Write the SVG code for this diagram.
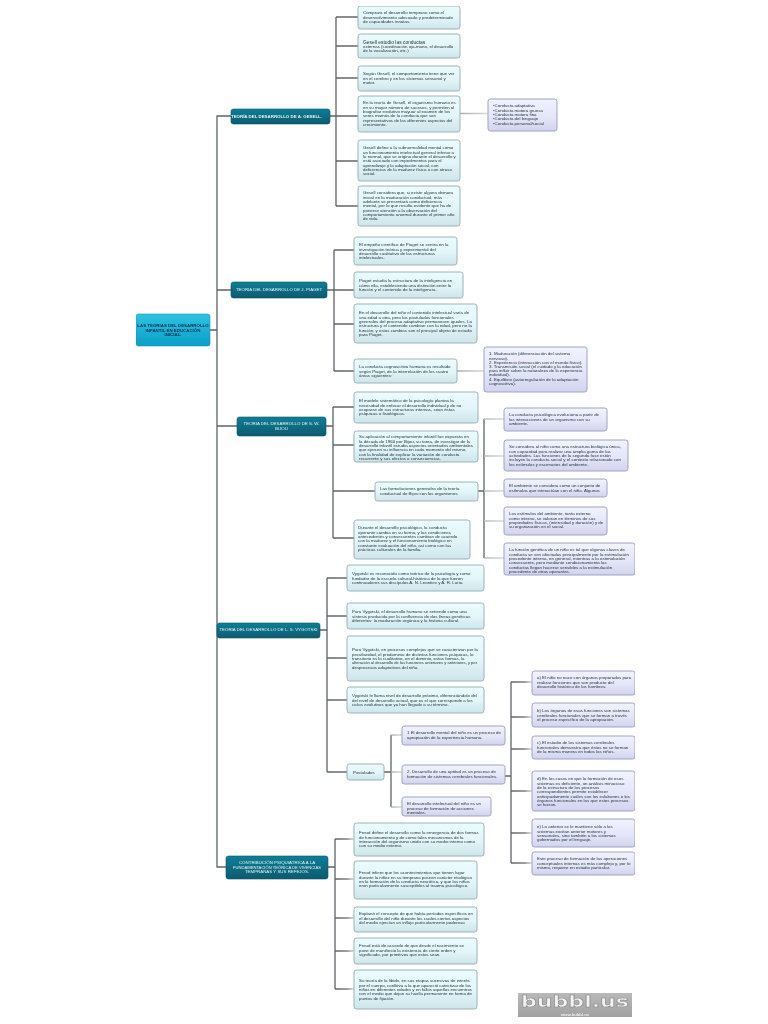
<svg xmlns="http://www.w3.org/2000/svg" width="768" height="1024" viewBox="0 0 768 1024">
<style>
text{font-family:"Liberation Sans",Arial,sans-serif;font-size:4.4px;fill:#22363d}
.c{fill:url(#cb);stroke:#9db2b8;stroke-width:1}
.p{fill:url(#pb);stroke:#a0a3bf;stroke-width:1}
.d{fill:url(#db);stroke:#0a5566;stroke-width:.6}
.r{fill:url(#rb);stroke:#1493b4;stroke-width:.6}
.w{fill:#e4f4f7;text-anchor:middle}
.k{fill:#06304a;font-weight:bold;text-anchor:middle}
.l{fill:none;stroke:#5f6466;stroke-width:1.3}
.f{fill:none;stroke:url(#fd);stroke-width:1.3}
</style>
<defs>
<linearGradient id="cb" x1="0" y1="0" x2="0" y2="1"><stop offset="0" stop-color="#ecfcfe"/><stop offset=".55" stop-color="#e2f5f8"/><stop offset="1" stop-color="#cde5ea"/></linearGradient>
<linearGradient id="pb" x1="0" y1="0" x2="0" y2="1"><stop offset="0" stop-color="#f1f3fe"/><stop offset=".55" stop-color="#e4e6f9"/><stop offset="1" stop-color="#d2d3ee"/></linearGradient>
<linearGradient id="db" x1="0" y1="0" x2="0" y2="1"><stop offset="0" stop-color="#127f97"/><stop offset="1" stop-color="#065a6e"/></linearGradient>
<linearGradient id="rb" x1="0" y1="0" x2="0" y2="1"><stop offset="0" stop-color="#2fc2e2"/><stop offset="1" stop-color="#08a0c9"/></linearGradient>
<linearGradient id="fd" x1="0" y1="0" x2="1" y2="0"><stop offset="0" stop-color="#5f6466"/><stop offset=".65" stop-color="#7d8182"/><stop offset="1" stop-color="#d8dada"/></linearGradient>
<linearGradient id="lg" x1="0" y1="0" x2="0" y2="1"><stop offset="0" stop-color="#b9b9b9"/><stop offset="1" stop-color="#a2a2a2"/></linearGradient>
<filter id="soft" x="0" y="0" width="1" height="1"><feGaussianBlur stdDeviation="0.3"/></filter>
</defs>
<rect width="768" height="1024" fill="#ffffff"/>
<g filter="url(#soft)">
<g id="connectors">
<path class="l" d="M231 116H217V867H226M210 330H217M217 290H231M217 426H237M217 630H217"/>
<path class="l" d="M330 116H336M336 17V206M327 290H334M334 250V371M326 426H333M333 407V538M320 630H327M327 578V772M328 867H335M335 839V989M384 772H391M391 735V807M478 491H484M484 419V558M505 776H511M511 682V863"/>
<path class="f" d="M336 17L358 17.01M336 46L358 46.01M336 78L358 78.01M336 116L358 116.01M336 161L358 161.01M336 206L358 206.01M460 113.5L488 113.51"/>
<path class="f" d="M334 250L354 250.01M334 290L354 290.01M334 324L354 324.01M334 371L354 371.01M457 371L484 371.01"/>
<path class="f" d="M333 407L354 407.01M333 445L354 445.01M333 491L375 491.01M333 538L354 538.01M484 419L504 419.01M484 456L504 456.01M484 491L504 491.01M484 521L504 521.01M484 558L504 558.01"/>
<path class="f" d="M327 578L347 578.01M327 616L347 616.01M327 658L347 658.01M327 700L347 700.01M327 772L347 772.01M391 735L402 735.01M391 772L402 772.01M391 807L402 807.01"/>
<path class="f" d="M511 682L532 682.01M511 717L532 717.01M511 749L532 749.01M511 791L532 791.01M511 833L532 833.01M511 863L532 863.01"/>
<path class="f" d="M335 839L354 839.01M335 879L354 879.01M335 918L354 918.01M335 951L354 951.01M335 989L354 989.01"/>
</g>
<g id="root"><rect class="r" x="136" y="314" width="74" height="32" rx="2.5"/><text class="k" x="173" y="327.4"><tspan x="173">LAS TEORIAS DEL DESARROLLO</tspan><tspan x="173" dy="4.2">INFANTIL EN EDUCACIÓN</tspan><tspan x="173" dy="4.2">INICIAL.</tspan></text></g>
<g id="n-gesell"><rect class="d" x="231" y="109" width="99" height="15" rx="2.5"/><text class="w" x="276.5" y="117.6" font-weight="bold">TEORÍA DEL DESARROLLO DE A. GESELL.</text></g>
<g id="g1"><rect class="c" x="358" y="6" width="102" height="23" rx="2.5"/><text x="363" y="14.4"><tspan x="363">Comprara el desarrollo temprano como el</tspan><tspan x="363" dy="4.3">desenvolvimiento adecuado y predeterminado</tspan><tspan x="363" dy="4.3">de capacidades innatas.</tspan></text></g>
<g id="g2"><rect class="c" x="358" y="34" width="102" height="24" rx="2.5"/><text x="363" y="43.5"><tspan x="363" font-size="4.9">Gesell estudio las conductas</tspan><tspan x="363" dy="4.3">externas (coordinación ojo-mano, el desarrollo</tspan><tspan x="363" dy="4.3">de la vocalización, etc.)</tspan></text></g>
<g id="g3"><rect class="c" x="358" y="66" width="102" height="25" rx="2.5"/><text x="363" y="75.4"><tspan x="363">Según Gesell, el comportamiento tiene que ver</tspan><tspan x="363" dy="4.3">en el cerebro y en los sistemas sensorial y</tspan><tspan x="363" dy="4.3">motor.</tspan></text></g>
<g id="g4"><rect class="c" x="358" y="96" width="102" height="36" rx="2.5"/><text x="363" y="104.4"><tspan x="363">En la teoría de Gesell, el organismo humano es</tspan><tspan x="363" dy="4.3">en su mayor número de sucesos, y permiten al</tspan><tspan x="363" dy="4.3">biografiar evolutivo mayuar al examen de los</tspan><tspan x="363" dy="4.3">seres mamás de la conducta que son</tspan><tspan x="363" dy="4.3">representativos de los diferentes aspectos del</tspan><tspan x="363" dy="4.3">crecimiento.</tspan></text></g>
<g id="g4a"><rect class="p" x="488" y="99" width="69" height="32" rx="2.5"/><text x="493" y="107.4"><tspan x="493">•Conducta adaptativa</tspan><tspan x="493" dy="4.3">•Conducta motora gruesa</tspan><tspan x="493" dy="4.3">•Conducta motora fina</tspan><tspan x="493" dy="4.3">•Conducta del lenguaje</tspan><tspan x="493" dy="4.3">•Conducta personal/social</tspan></text></g>
<g id="g5"><rect class="c" x="358" y="140" width="102" height="41" rx="2.5"/><text x="363" y="149.4"><tspan x="363">Gesell define a la subnormalidad mental como</tspan><tspan x="363" dy="4.3">un funcionamiento intelectual general inferior a</tspan><tspan x="363" dy="4.3">lo normal, que se origina durante el desarrollo y</tspan><tspan x="363" dy="4.3">está asociado con impedimentos para el</tspan><tspan x="363" dy="4.3">aprendizaje y la adaptación social, con</tspan><tspan x="363" dy="4.3">deficiencias de la madurez física o con atraso</tspan><tspan x="363" dy="4.3">social.</tspan></text></g>
<g id="g6"><rect class="c" x="358" y="186" width="102" height="40" rx="2.5"/><text x="363" y="194.4"><tspan x="363">Gesell considera que, si existe alguna demora</tspan><tspan x="363" dy="4.3">inicial en la maduración conductual, más</tspan><tspan x="363" dy="4.3">adelante se presentará como deficiencia</tspan><tspan x="363" dy="4.3">mental, por lo que resulta evidente que ha de</tspan><tspan x="363" dy="4.3">ponerse atención a la observación del</tspan><tspan x="363" dy="4.3">comportamiento anormal durante el primer año</tspan><tspan x="363" dy="4.3">de vida.</tspan></text></g>
<g id="n-piaget"><rect class="d" x="231" y="282" width="96" height="16" rx="2.5"/><text class="w" x="279" y="291.4">TEORÍA DEL DESARROLLO DE J. PIAGET</text></g>
<g id="p1"><rect class="c" x="354" y="237" width="103" height="28" rx="2.5"/><text x="359" y="246.4"><tspan x="359">El empeño científico de Piaget se centra en la</tspan><tspan x="359" dy="4.3">investigación teórica y experimental del</tspan><tspan x="359" dy="4.3">desarrollo cualitativo de las estructuras</tspan><tspan x="359" dy="4.3">intelectuales.</tspan></text></g>
<g id="p2"><rect class="c" x="354" y="272" width="109" height="26" rx="2.5"/><text x="359" y="282.4"><tspan x="359">Piaget estudia la estructura de la inteligencia en</tspan><tspan x="359" dy="4.3">cómo ella, estableciendo una distinción entre la</tspan><tspan x="359" dy="4.3">función y el contenido de la inteligencia.</tspan></text></g>
<g id="p3"><rect class="c" x="354" y="304" width="123" height="39" rx="2.5"/><text x="359" y="314.4"><tspan x="359">En el desarrollo del niño el contenido intelectual varía de</tspan><tspan x="359" dy="4.3">una edad a otra, pero los postulados funcionales</tspan><tspan x="359" dy="4.3" textLength="113" lengthAdjust="spacingAndGlyphs">generales del proceso adaptativo permanecen iguales. La</tspan><tspan x="359" dy="4.3" textLength="113" lengthAdjust="spacingAndGlyphs">estructura y el contenido cambian con la edad, pero no la</tspan><tspan x="359" dy="4.3" textLength="113" lengthAdjust="spacingAndGlyphs">función, y estos cambios son el principal objeto de estudio</tspan><tspan x="359" dy="4.3">para Piaget.</tspan></text></g>
<g id="p4"><rect class="c" x="354" y="359" width="103" height="24" rx="2.5"/><text x="359" y="368.4"><tspan x="359">La conducta cognoscitiva humana es resultado</tspan><tspan x="359" dy="4.3">según Piaget, de la interrelación de los cuatro</tspan><tspan x="359" dy="4.3">áreas siguientes:</tspan></text></g>
<g id="p4a"><rect class="p" x="484" y="347" width="103" height="45" rx="2.5"/><text x="489" y="355.4"><tspan x="489">1. Maduración (diferenciación del sistema</tspan><tspan x="489" dy="4.2">nervioso).</tspan><tspan x="489" dy="4.2">2. Experiencia (interacción con el mundo físico).</tspan><tspan x="489" dy="4.2">3. Transmisión social (el cuidado y la educación</tspan><tspan x="489" dy="4.2">para influir sobre la naturaleza de la experiencia</tspan><tspan x="489" dy="4.2">individual).</tspan><tspan x="489" dy="4.2">4. Equilibrio (autorregulación de la adaptación</tspan><tspan x="489" dy="4.2">cognoscitiva).</tspan></text></g>
<g id="n-bijou"><rect class="d" x="237" y="417" width="89" height="19" rx="2.5"/><text class="w" x="281.5" y="425.4"><tspan x="281.5">TEORÍA DEL DESARROLLO DE S. W.</tspan><tspan x="281.5" dy="4.6">BIJOU</tspan></text></g>
<g id="b1"><rect class="c" x="354" y="392" width="124" height="31" rx="2.5"/><text x="359" y="402.4"><tspan x="359">El modelo sistemático de la psicología plantea la</tspan><tspan x="359" dy="4.3">necesidad de enfocar el desarrollo individual y de no</tspan><tspan x="359" dy="4.3">ocuparse de sus estructuras internas, sean éstas</tspan><tspan x="359" dy="4.3">psíquicas o fisiológicas.</tspan></text></g>
<g id="b2"><rect class="c" x="354" y="431" width="124" height="31" rx="2.5"/><text x="359" y="438.4"><tspan x="359">Su aplicación al comportamiento infantil fue expuesta en</tspan><tspan x="359" dy="4.3">la década de 1960 por Bijou, su tarea, de investigar de la</tspan><tspan x="359" dy="4.3" textLength="114" lengthAdjust="spacingAndGlyphs">desarrollo infantil estudia aspectos orientados ambientales</tspan><tspan x="359" dy="4.3">que ejercen su influencia en cada momento del mismo,</tspan><tspan x="359" dy="4.3">con la finalidad de explicar la variación de conducta</tspan><tspan x="359" dy="4.3">recurrente y sus efectos o consecuencias.</tspan></text></g>
<g id="b3"><rect class="c" x="375" y="482" width="103" height="19" rx="2.5"/><text x="380" y="490.4"><tspan x="380">Las formulaciones generales de la teoría</tspan><tspan x="380" dy="4.3">conductual de Bijou con los organismos.</tspan></text></g>
<g id="b4"><rect class="c" x="354" y="520" width="116" height="39" rx="2.5"/><text x="358" y="529.4"><tspan x="358"> Durante el desarrollo psicológico, la conducta</tspan><tspan x="358" dy="4.3">operante cambia en su forma, y las condiciones</tspan><tspan x="358" dy="4.3">antecedentes y consecuentes cambian de acuerdo</tspan><tspan x="358" dy="4.3">con la madurez y el funcionamiento biológico en</tspan><tspan x="358" dy="4.3">constante evaluación del niño, así como con las</tspan><tspan x="358" dy="4.3">prácticas culturales de la familia.</tspan></text></g>
<g id="b5"><rect class="p" x="504" y="408" width="103" height="23" rx="2.5"/><text x="509" y="416.4"><tspan x="509">La conducta psicológica evoluciona a partir de</tspan><tspan x="509" dy="4.3">las interacciones de un organismo con su</tspan><tspan x="509" dy="4.3">ambiente.</tspan></text></g>
<g id="b6"><rect class="p" x="504" y="440" width="124" height="31" rx="2.5"/><text x="509" y="448.4"><tspan x="509" textLength="112" lengthAdjust="spacingAndGlyphs">Se considera al niño como una estructura biológica única,</tspan><tspan x="509" dy="4.3">con capacidad para realizar una amplia gama de las</tspan><tspan x="509" dy="4.3">actividades. Las funciones de la segunda fase están</tspan><tspan x="509" dy="4.3" textLength="112" lengthAdjust="spacingAndGlyphs">incluyen la conducta social y el contexto relacionado con</tspan><tspan x="509" dy="4.3">los estímulos y escenarios del ambiente.</tspan></text></g>
<g id="b7"><rect class="p" x="504" y="479" width="103" height="18" rx="2.5"/><text x="509" y="487.4"><tspan x="509">El ambiente se considera como un conjunto de</tspan><tspan x="509" dy="4.3">estímulos que interactúan con el niño. Algunos</tspan></text></g>
<g id="b8"><rect class="p" x="504" y="507" width="103" height="28" rx="2.5"/><text x="509" y="515.4"><tspan x="509">Los estímulos del ambiente, tanto externo</tspan><tspan x="509" dy="4.3">como interno, se valoran en términos de sus</tspan><tspan x="509" dy="4.3">propiedades físicas, (intensidad y duración) y de</tspan><tspan x="509" dy="4.3">su organización en el social.</tspan></text></g>
<g id="b9"><rect class="p" x="504" y="543" width="131" height="32" rx="2.5"/><text x="509" y="551.4"><tspan x="509" textLength="116" lengthAdjust="spacingAndGlyphs">La función genética de un niño es tal que algunas clases de</tspan><tspan x="509" dy="4.3" textLength="120" lengthAdjust="spacingAndGlyphs">conducta se ven afectadas principalmente por la estimulación</tspan><tspan x="509" dy="4.3" textLength="116" lengthAdjust="spacingAndGlyphs">procedente interna, en general, mientras a la estimulación</tspan><tspan x="509" dy="4.3">consecuente, pero mediante condicionamiento las</tspan><tspan x="509" dy="4.3">conductas llegan hacerse sensibles a la estimulación</tspan><tspan x="509" dy="4.3">procedente de otras operantes.</tspan></text></g>
<g id="n-vygotski"><rect class="d" x="217" y="623" width="103" height="15" rx="2.5"/><text class="w" x="268.5" y="631.4">TEORÍA DEL DESARROLLO DE L. S. VYGOTSKI</text></g>
<g id="v1"><rect class="c" x="347" y="565" width="137" height="26" rx="2.5"/><text x="352" y="575.4"><tspan x="352">Vygotski es reconocido como teórico de la psicología y como</tspan><tspan x="352" dy="4.3">fundador de la escuela cultural-histórica de la que fueron</tspan><tspan x="352" dy="4.3">continuadores sus discípulos A. N. Leontiev y A. R. Luria.</tspan></text></g>
<g id="v2"><rect class="c" x="347" y="603" width="137" height="26" rx="2.5"/><text x="352" y="613.4"><tspan x="352">Para Vygotski, el desarrollo humano se entiende como una</tspan><tspan x="352" dy="4.3">síntesis producida por la confluencia de dos líneas genéticas</tspan><tspan x="352" dy="4.3">diferentes: la maduración orgánica y la historia cultural.</tspan></text></g>
<g id="v3"><rect class="c" x="347" y="636" width="137" height="45" rx="2.5"/><text x="352" y="651.4"><tspan x="352">Para Vygotski, en procesos complejos que se caracterizan por la</tspan><tspan x="352" dy="4.3">peculiaridad, el predominio de distintas funciones psíquicas, lo</tspan><tspan x="352" dy="4.3">transitorio es lo cualitativo, en el dominio, estas formas, la</tspan><tspan x="352" dy="4.3" textLength="125" lengthAdjust="spacingAndGlyphs">alteración al desarrollo de las funciones anteriores y anteriores, y por</tspan><tspan x="352" dy="4.3">desprocesos adaptativos del niño.</tspan></text></g>
<g id="v4"><rect class="c" x="347" y="687" width="137" height="26" rx="2.5"/><text x="352" y="697.4"><tspan x="352" textLength="125" lengthAdjust="spacingAndGlyphs">Vygotski le llama nivel de desarrollo próximo, diferenciándolo del</tspan><tspan x="352" dy="4.3">del nivel de desarrollo actual, que es el que corresponde a los</tspan><tspan x="352" dy="4.3">ciclos evolutivos que ya han llegado a su término.</tspan></text></g>
<g id="v5"><rect class="c" x="347" y="764" width="37" height="16" rx="2.5"/><text x="353" y="773.6">Postulados</text></g>
<g id="q1"><rect class="p" x="402" y="726" width="103" height="19" rx="2.5"/><text x="407" y="734.4"><tspan x="407">1 El desarrollo mental del niño es un proceso de</tspan><tspan x="407" dy="4.3">apropiación de la experiencia humana.</tspan></text></g>
<g id="q2"><rect class="p" x="402" y="765" width="103" height="19" rx="2.5"/><text x="407" y="773.4"><tspan x="407">2. Desarrollo de una aptitud es un proceso de</tspan><tspan x="407" dy="4.3">formación de sistemas cerebrales funcionales.</tspan></text></g>
<g id="q3"><rect class="p" x="402" y="797" width="89" height="19" rx="2.5"/><text x="407" y="805.4"><tspan x="407">El desarrollo intelectual del niño es un</tspan><tspan x="407" dy="4.3">proceso de formación de acciones</tspan><tspan x="407" dy="4.3">mentales.</tspan></text></g>
<g id="r1"><rect class="p" x="532" y="671" width="103" height="24" rx="2.5"/><text x="537" y="679.4"><tspan x="537">a) El niño no nace con órganos preparados para</tspan><tspan x="537" dy="4.4">realizar funciones que son producto del</tspan><tspan x="537" dy="4.4">desarrollo histórico de los hombres.</tspan></text></g>
<g id="r2"><rect class="p" x="532" y="703" width="103" height="24" rx="2.5"/><text x="537" y="712.4"><tspan x="537">b) Los órganos de esas funciones son sistemas</tspan><tspan x="537" dy="4.3">cerebrales funcionales que se forman a través</tspan><tspan x="537" dy="4.3">el proceso específico de la apropiación.</tspan></text></g>
<g id="r3"><rect class="p" x="532" y="736" width="103" height="23" rx="2.5"/><text x="537" y="744.4"><tspan x="537">c) El estudio de los sistemas cerebrales</tspan><tspan x="537" dy="4.3">funcionales demuestra que éstos no se forman</tspan><tspan x="537" dy="4.3">de la misma manera en todos los niños.</tspan></text></g>
<g id="r4"><rect class="p" x="532" y="771" width="103" height="40" rx="2.5"/><text x="537" y="780.4"><tspan x="537">d) En los casos en que la formación de esos</tspan><tspan x="537" dy="4.3">sistemas es deficiente, un análisis minucioso</tspan><tspan x="537" dy="4.3">de la estructura de los procesos</tspan><tspan x="537" dy="4.3">correspondientes permite establecer</tspan><tspan x="537" dy="4.3">anticipadamente cuáles son los eslabones o los</tspan><tspan x="537" dy="4.3">órganos funcionales en los que estos procesos</tspan><tspan x="537" dy="4.3">se fueron.</tspan></text></g>
<g id="r5"><rect class="p" x="532" y="819" width="103" height="28" rx="2.5"/><text x="537" y="828.4"><tspan x="537">e) Lo anterior se le mantiene sólo a los</tspan><tspan x="537" dy="4.3">sistemas excitan anterior motores y</tspan><tspan x="537" dy="4.3">sensoriales, sino también a los sistemas</tspan><tspan x="537" dy="4.3">gobernados por el lenguaje.</tspan></text></g>
<g id="r6"><rect class="p" x="532" y="852" width="103" height="23" rx="2.5"/><text x="537" y="860.4"><tspan x="537">Este proceso de formación de las operaciones</tspan><tspan x="537" dy="4.3">conceptuales internas es más complejo y, por lo</tspan><tspan x="537" dy="4.3">mismo, requiere en estadio particular.</tspan></text></g>
<g id="n-freud"><rect class="d" x="226" y="856" width="102" height="23" rx="2.5"/><text class="w" x="277" y="864.4"><tspan x="277">CONTRIBUCIÓN PSIQUIÁTRICA A LA</tspan><tspan x="277" dy="4.5" textLength="88" lengthAdjust="spacingAndGlyphs">FUNDAMENTACIÓN TEÓRICA DE VIVENCIAS</tspan><tspan x="277" dy="4.5">TEMPRANAS Y SUS REFEJOS.</tspan></text></g>
<g id="f1"><rect class="c" x="354" y="823" width="130" height="33" rx="2.5"/><text x="359" y="834.4"><tspan x="359">Freud define el desarrollo como la emergencia de dos formas</tspan><tspan x="359" dy="4.3">de funcionamiento y de como tales mecanismos de la</tspan><tspan x="359" dy="4.3">interacción del organismo unido con su medio interno como</tspan><tspan x="359" dy="4.3">con su medio externo.</tspan></text></g>
<g id="f2"><rect class="c" x="354" y="861" width="123" height="38" rx="2.5"/><text x="359" y="874.4"><tspan x="359">Freud infiere que los acontecimientos que tienen lugar</tspan><tspan x="359" dy="4.3" textLength="113" lengthAdjust="spacingAndGlyphs">durante la niñez en su temprana poseen carácter etiológico</tspan><tspan x="359" dy="4.3">en la formación de la conducta neurótica, y que los niños</tspan><tspan x="359" dy="4.3">eran particularmente susceptibles al trauma psicológico.</tspan></text></g>
<g id="f3"><rect class="c" x="354" y="907" width="123" height="25" rx="2.5"/><text x="359" y="915.4"><tspan x="359">Explanó el concepto de que había períodos específicos en</tspan><tspan x="359" dy="4.3">el desarrollo del niño durante los cuales ciertos aspectos</tspan><tspan x="359" dy="4.3">del medio ejercían un influjo particularmente poderoso</tspan></text></g>
<g id="f4"><rect class="c" x="354" y="938" width="123" height="26" rx="2.5"/><text x="359" y="947.4"><tspan x="359">Freud está de acuerdo de que desde el nacimiento se</tspan><tspan x="359" dy="4.3">pone de manifiesto la existencia de cierto orden y</tspan><tspan x="359" dy="4.3">significado, por primitivos que estos sean.</tspan></text></g>
<g id="f5"><rect class="c" x="354" y="970" width="123" height="39" rx="2.5"/><text x="359" y="982.4"><tspan x="359"> Su teoría de la libido, en sus etapas sucesivas de interés</tspan><tspan x="359" dy="4.3">por el cuerpo, conlleva a la que apareció catectizar de los</tspan><tspan x="359" dy="4.3" textLength="113" lengthAdjust="spacingAndGlyphs">niños en diferentes edades y en fallos aquellos encuentros</tspan><tspan x="359" dy="4.3" textLength="113" lengthAdjust="spacingAndGlyphs">con el medio que dejan su huella permanente en forma de</tspan><tspan x="359" dy="4.3">puntos de fijación.</tspan></text></g>
<g id="logo"><rect x="518" y="993" width="114" height="24" fill="url(#lg)"/><text x="521" y="1007" textLength="108" lengthAdjust="spacingAndGlyphs" style="font-family:'DejaVu Sans',sans-serif;font-size:15.5px;font-weight:bold;fill:#f2f2f2;stroke:#858585;stroke-width:.5">bubbl.us</text><text x="575" y="1015.6" text-anchor="middle" style="font-size:4.2px;fill:#efefef;font-weight:bold">www.bubbl.us</text></g>
</g>
</svg>
